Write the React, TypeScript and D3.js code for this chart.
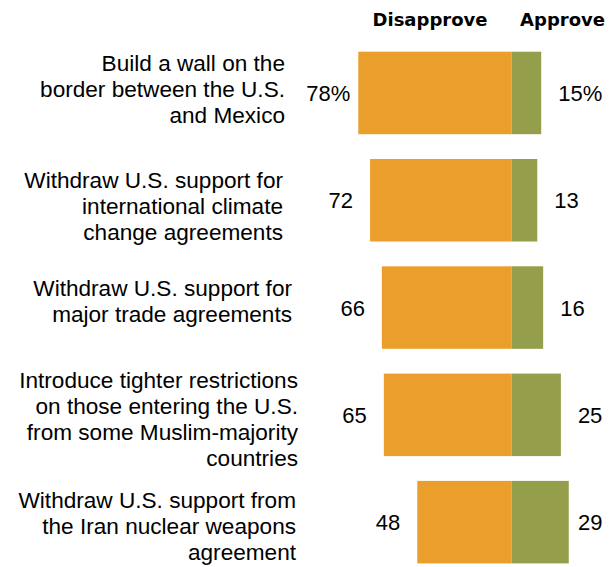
import React from "react";
import * as d3 from "d3";

const categories: string[][] = [
  ["Build a wall on the", "border between the U.S.", "and Mexico"],
  ["Withdraw U.S. support for", "international climate", "change agreements"],
  ["Withdraw U.S. support for", "major trade agreements"],
  ["Introduce tighter restrictions", "on those entering the U.S.", "from some Muslim-majority", "countries"],
  ["Withdraw U.S. support from", "the Iran nuclear weapons", "agreement"],
];
const disapprove: number[] = [78, 72, 66, 65, 48];
const approve: number[] = [15, 13, 16, 25, 29];
const seriesNames: string[] = ["Disapprove", "Approve"];

// layout tweaks (label right edge, label vertical offset)
const labelRight = [285, 283, 292, 298, 296];
const labelDy = [-4, 6, -7, 4.5, 4];

const W = 616;
const H = 567;
const CENTER = 511.7;
const ORANGE = "#EA9F2D";
const GREEN = "#959E4A";
const FONT = "'Liberation Sans', Arial, sans-serif";
const FS = 22.6;

export default function App() {
  const x = d3.scaleLinear().domain([0, 100]).range([0, 196.7]);
  const y = d3
    .scaleBand<number>()
    .domain(d3.range(categories.length))
    .range([51.7, 563.4])
    .paddingInner(0.231)
    .paddingOuter(0);
  const bh = y.bandwidth();

  return (
    <svg
      width={W}
      height={H}
      style={{ position: "absolute", left: 0, top: 0, background: "#fff" }}
    >
      <text
        x={430}
        y={26}
        textAnchor="middle"
        fontFamily="'DejaVu Sans', sans-serif"
        fontWeight="bold"
        fontSize={18}
        fill="#000"
      >
        {seriesNames[0]}
      </text>
      <text
        x={605}
        y={26}
        textAnchor="end"
        fontFamily="'DejaVu Sans', sans-serif"
        fontWeight="bold"
        fontSize={18}
        fill="#000"
      >
        {seriesNames[1]}
      </text>
      {categories.map((lines, i) => {
        const top = y(i) as number;
        const cy = top + bh / 2;
        const xl = CENTER - x(disapprove[i]);
        const xr = CENTER + x(approve[i]);
        const n = lines.length;
        const ax = Math.min(xr + 17, 578);
        return (
          <g key={i}>
            <rect x={xl} y={top} width={CENTER - xl} height={bh} fill={ORANGE} />
            <rect x={CENTER} y={top} width={xr - CENTER} height={bh} fill={GREEN} />
            <text
              x={xl - (i === 0 ? 8 : 17)}
              y={cy + 8}
              textAnchor="end"
              fontFamily={FONT}
              fontSize={22}
              fill="#000"
            >
              {disapprove[i] + (i === 0 ? "%" : "")}
            </text>
            <text x={ax} y={cy + 8} fontFamily={FONT} fontSize={22} fill="#000">
              {approve[i] + (i === 0 ? "%" : "")}
            </text>
            {lines.map((ln, j) => (
              <text
                key={j}
                x={labelRight[i]}
                y={cy + labelDy[i] + (j - (n - 1) / 2) * 26 + 8}
                textAnchor="end"
                fontFamily={FONT}
                fontSize={FS}
                fill="#000"
              >
                {ln}
              </text>
            ))}
          </g>
        );
      })}
    </svg>
  );
}
